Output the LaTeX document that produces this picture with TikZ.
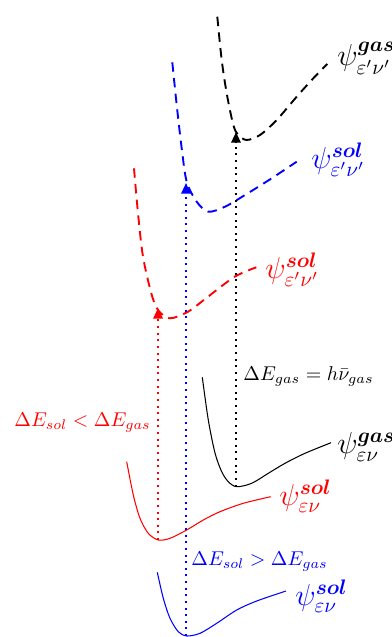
\documentclass[tikz,border=0pt]{standalone}
\usepackage{amsmath,bm,graphicx}
\usetikzlibrary{arrows.meta}
\begin{document}
\begin{tikzpicture}[x=0.476pt,y=-0.476pt,
  well/.style={line width=0.5pt},
  upper/.style={line width=0.9pt, dash pattern=on 4.5pt off 3pt},
  trans/.style={line width=0.952pt, dash pattern=on 0.952pt off 2.2pt, -{Triangle[length=5pt,width=4.4pt]}},
  lab/.style={inner sep=0pt, anchor=west},
  psilab/.style={inner sep=0pt, anchor=west, font=\Large}]
\useasboundingbox (0,0) rectangle (392,637);

% ground state wells (solid)
\draw[well] plot[smooth] coordinates {(202.3,377.3) (208.3,420) (215,453) (221.7,471.7) (228.3,481.7) (236.7,486.7) (251.7,483.3) (268.3,473.3) (285,463.3) (305,453.3) (331,442.7)};
\draw[well,red] plot[smooth] coordinates {(126.7,461.7) (133.3,495) (140,518.3) (148.3,533.3) (158.3,540) (170,538.3) (186.7,530) (203.3,520) (220,511.7) (243.3,503.3) (270.7,496.7)};
\draw[well,blue] plot[smooth] coordinates {(157.3,572.3) (163.3,598.3) (170,618.3) (178.3,631.7) (186.7,636) (200,633.3) (216.7,623.3) (236.7,610) (256.7,601) (286,591)};

% excited state wells (dashed)
\draw[upper] plot[smooth] coordinates {(217.3,16.7) (221.7,60) (226.7,93.3) (233.3,125) (238.3,135) (246.7,140) (260,135) (276.7,120) (296.7,96.7) (313.3,78.3) (327.3,64)};
\draw[upper,blue] plot[smooth] coordinates {(172.3,62.3) (176.7,105) (181.7,148.3) (186.7,181.7) (196.7,201.7) (208.3,211.7) (225,206.7) (245,195) (271.7,178.3) (296.7,161.7)};
\draw[upper,red] plot[smooth] coordinates {(134,168.3) (138,213.3) (143,256.7) (151.3,293.3) (158,310) (169.7,318.3) (188,311.7) (208,296.7) (234.7,276.7) (256.3,267.3)};

% transition end points
\coordinate (gA) at (236,486.5);
\coordinate (gB) at (236,132);
\coordinate (rA) at (158,540);
\coordinate (rB) at (158,308);
\coordinate (bA) at (186,636);
\coordinate (bB) at (186,183);

\draw[trans] (gA) -- (gB);
\draw[trans,red] (rA) -- (rB);
\draw[trans,blue] (bA) -- (bB);

% labels
\node[psilab] (l1) at (337,58) {$\psi^{\bm{gas}}_{\varepsilon'\nu'}$};
\node[psilab,blue] (l2) at (311,160) {$\psi^{\bm{sol}}_{\varepsilon'\nu'}$};
\node[psilab,red] (l3) at (265,270) {$\psi^{\bm{sol}}_{\varepsilon'\nu'}$};
\node[lab] (l4) at (243,376) {\scalebox{0.95}{$\Delta E_{gas}=h\bar{\nu}_{gas}$}};
\node[psilab] (l5) at (337,447) {$\psi^{\bm{gas}}_{\varepsilon\nu}$};
\node[lab,red] (l6) at (14,423) {\scalebox{0.95}{$\Delta E_{sol}<\Delta E_{gas}$}};
\node[psilab,red] (l7) at (279,496) {$\psi^{\bm{sol}}_{\varepsilon\nu}$};
\node[lab,blue] (l8) at (191,562) {\scalebox{0.95}{$\Delta E_{sol}>\Delta E_{gas}$}};
\node[psilab,blue] (l9) at (295,596) {$\psi^{\bm{sol}}_{\varepsilon\nu}$};
\end{tikzpicture}
\end{document}
